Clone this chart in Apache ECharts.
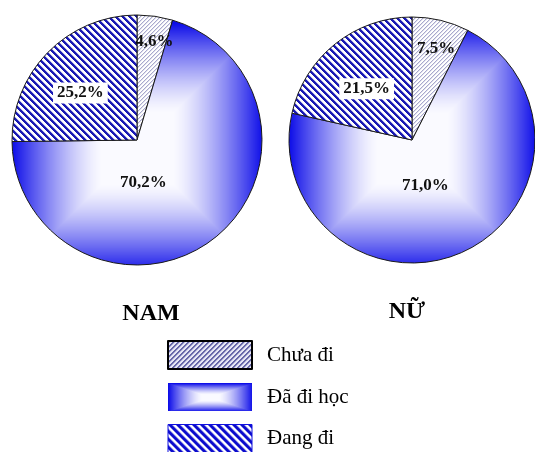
<!DOCTYPE html>
<html>
<head>
<meta charset="utf-8">
<script src="https://cdn.jsdelivr.net/npm/echarts@6/dist/echarts.min.js"></script>
<style>
  html, body { margin: 0; padding: 0; background: #fff; }
  #chart { width: 535px; height: 452px; }
</style>
</head>
<body>
<div id="chart"></div>
<script>
// số liệu
var categories = ['Chưa đi', 'Đã đi học', 'Đang đi'];
var groups = ['NAM', 'NỮ'];
var namValues = [4.6, 70.2, 25.2];
var nuValues = [7.5, 71.0, 21.5];

var W = 535, H = 452;
var pieCenters = [[137, 140], [412, 140]];
var pieRadius = [125, 123];

// ô sọc chéo
function stripeTile(period, width, dir, ink, paper) {
  var c = document.createElement('canvas');
  c.width = period; c.height = period;
  var ctx = c.getContext('2d');
  var img = ctx.createImageData(period, period);
  for (var y = 0; y < period; y++) {
    for (var x = 0; x < period; x++) {
      var k = (((dir > 0 ? x + y : x - y) % period) + period) % period;
      var a = k < width ? 1 : (k < width + 1 ? 0.35 : 0);
      var i = (y * period + x) * 4;
      for (var m = 0; m < 3; m++) img.data[i + m] = Math.round(ink[m] * a + paper[m] * (1 - a));
      img.data[i + 3] = 255;
    }
  }
  ctx.putImageData(img, 0, 0);
  return c;
}

// nền xanh chuyển từ tâm ra (kiểu hình chữ nhật)
function boxGlow(w, h, boxes, start) {
  var c = document.createElement('canvas');
  c.width = w; c.height = h;
  var ctx = c.getContext('2d');
  var img = ctx.createImageData(w, h);
  var blue = [14, 14, 232], white = [250, 250, 255];
  for (var y = 0; y < h; y++) {
    for (var x = 0; x < w; x++) {
      var b = boxes[0];
      for (var j = 1; j < boxes.length; j++) {
        if (Math.abs(x - boxes[j][0]) < Math.abs(x - b[0])) b = boxes[j];
      }
      var t = Math.max(Math.abs(x - b[0]) / b[2], Math.abs(y - b[1]) / b[3]);
      var f = Math.min(1, Math.max(0, (t - start) / (1 - start)));
      f = Math.pow(f, 1.4);
      var i = (y * w + x) * 4;
      for (var k = 0; k < 3; k++) img.data[i + k] = Math.round(white[k] * (1 - f) + blue[k] * f);
      img.data[i + 3] = 255;
    }
  }
  ctx.putImageData(img, 0, 0);
  return c;
}

var lightHatch = { image: stripeTile(4, 1, 1, [168, 168, 205], [255, 255, 255]), repeat: 'repeat' };
var darkHatch = { image: stripeTile(7, 3, -1, [26, 26, 180], [255, 255, 255]), repeat: 'repeat' };
var blueGlow = {
  image: boxGlow(W, H, [
    [pieCenters[0][0], pieCenters[0][1] + 8, pieRadius[0], pieRadius[0]],
    [pieCenters[1][0], pieCenters[1][1] + 8, pieRadius[1], pieRadius[1]]
  ], 0.28),
  repeat: 'no-repeat'
};

var legendLight = { image: stripeTile(5, 2, 1, [105, 105, 170], [232, 232, 246]), repeat: 'repeat' };
var legendDark = { image: stripeTile(8, 4, -1, [12, 12, 205], [255, 255, 255]), repeat: 'repeat' };
var legendGlow = { image: boxGlow(84, 28, [[42, 14, 42, 14]], 0.2), repeat: 'no-repeat' };

var sliceFills = [lightHatch, blueGlow, darkHatch];

function fmt(v) {
  return v.toFixed(1).replace('.', ',') + '%';
}

// dịch nhãn cho giống bản gốc
var labelOffsets = [
  [[8, -34], [-33, -10], [-10, -1]],
  [[9, -29], [-14, -13], [-5, -1]]
];

function buildSeries(values, idx) {
  return {
    type: 'pie',
    center: pieCenters[idx],
    radius: pieRadius[idx],
    startAngle: 90,
    clockwise: true,
    animation: false,
    silent: true,
    itemStyle: { borderColor: '#1a1a1a', borderWidth: 1 },
    label: {
      show: true,
      position: 'inside',
      color: '#111',
      fontFamily: 'Liberation Serif',
      fontWeight: 'bold',
      fontSize: 17,
      formatter: function (p) { return fmt(p.value); }
    },
    labelLine: { show: false },
    data: values.map(function (v, i) {
      var lab = { offset: labelOffsets[idx][i] };
      if (i === 2) {
        lab.backgroundColor = '#fff';
        lab.padding = [2, 4];
      }
      return { name: categories[i], value: v, itemStyle: { color: sliceFills[i] }, label: lab };
    })
  };
}

var myChart = echarts.init(document.getElementById('chart'), null, { renderer: 'canvas' });
var option = {
  backgroundColor: '#fff',
  animation: false,
  legend: {
    orient: 'vertical',
    left: 167,
    top: 340,
    height: 160,
    padding: 0,
    itemWidth: 84,
    itemHeight: 28,
    itemGap: 13,
    icon: 'rect',
    selectedMode: false,
    textStyle: { fontFamily: 'Liberation Serif', fontSize: 21, color: '#000', padding: [0, 0, 0, 10] },
    data: [
      { name: categories[0], itemStyle: { color: legendLight, borderColor: '#000', borderWidth: 2 } },
      { name: categories[1], itemStyle: { color: legendGlow, borderWidth: 0 } },
      { name: categories[2], itemStyle: { color: legendDark, borderColor: '#1010e0', borderWidth: 1 } }
    ]
  },
  graphic: [
    { type: 'text', x: 151, y: 302, style: { text: groups[0], textAlign: 'center', fill: '#000', font: 'bold 24px "Liberation Serif"' } },
    { type: 'text', x: 407, y: 300, style: { text: groups[1], textAlign: 'center', fill: '#000', font: 'bold 24px "Liberation Serif"' } }
  ],
  series: [buildSeries(namValues, 0), buildSeries(nuValues, 1)]
};
myChart.setOption(option);
</script>
</body>
</html>
